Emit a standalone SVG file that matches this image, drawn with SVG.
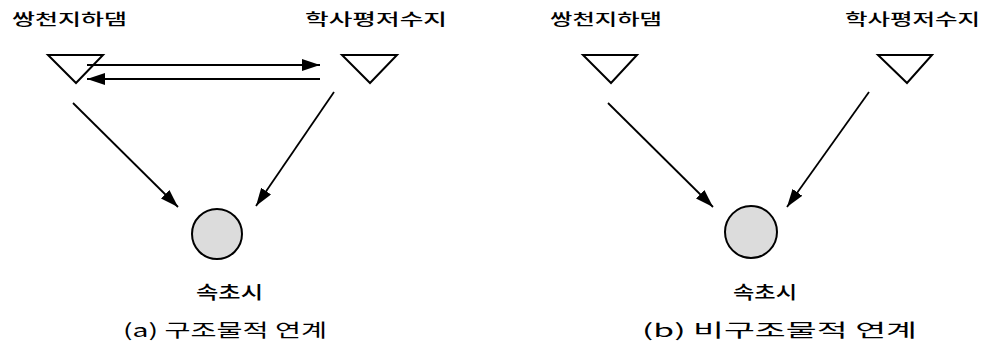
<svg xmlns="http://www.w3.org/2000/svg" width="987" height="353" viewBox="0 0 987 353">
<style>
.tri{fill:#fff;stroke:#000;stroke-width:2;stroke-linejoin:miter}
.city{fill:#dcdcdc;stroke:#000;stroke-width:2}
.lbl{font-family:"Noto Sans CJK KR","Noto Sans",sans-serif;font-size:15.5px;font-weight:500;fill:#000}
.cap{font-family:"Noto Sans CJK KR","Noto Sans",sans-serif;font-size:18px;font-weight:400;fill:#000}
.con{stroke:#000;stroke-width:1.8;fill:none}
</style>
<defs>
<marker id="ah" markerUnits="userSpaceOnUse" markerWidth="18" markerHeight="12" refX="18" refY="6" orient="auto">
<path d="M0,0 L18,6 L0,12 z" fill="#000"/>
</marker>
</defs>
<rect width="987" height="353" fill="#fff"/>
<g id="a-dam">
<polygon class="tri" points="48,55 103,55 76,83"/>
<text class="lbl" x="12" y="24.5" textLength="115" lengthAdjust="spacingAndGlyphs">쌍천지하댐</text>
</g>
<g id="a-reservoir">
<polygon class="tri" points="342,55 397,55 370,83"/>
<text class="lbl" x="305" y="24.5" textLength="142" lengthAdjust="spacingAndGlyphs">학사평저수지</text>
</g>
<g id="a-city">
<circle class="city" cx="217" cy="234" r="25"/>
<text class="lbl" x="196" y="299" textLength="67" lengthAdjust="spacingAndGlyphs" style="font-size:18px">속초시</text>
</g>
<g id="b-dam">
<polygon class="tri" points="583,55 637,55 611,83"/>
<text class="lbl" x="550" y="24.5" textLength="112" lengthAdjust="spacingAndGlyphs">쌍천지하댐</text>
</g>
<g id="b-reservoir">
<polygon class="tri" points="878,55 932,55 907,83"/>
<text class="lbl" x="845" y="24.5" textLength="135" lengthAdjust="spacingAndGlyphs">학사평저수지</text>
</g>
<g id="b-city">
<circle class="city" cx="751" cy="232" r="26"/>
<text class="lbl" x="733" y="299" textLength="64" lengthAdjust="spacingAndGlyphs" style="font-size:18px">속초시</text>
</g>
<g id="connectors">
<line class="con" x1="87" y1="65" x2="320" y2="65" marker-end="url(#ah)"/>
<line class="con" x1="320" y1="79" x2="87" y2="79" marker-end="url(#ah)"/>
<line class="con" x1="73" y1="103" x2="178" y2="207" marker-end="url(#ah)"/>
<line class="con" x1="334" y1="92" x2="256" y2="206" marker-end="url(#ah)"/>
<line class="con" x1="608" y1="103" x2="713" y2="207" marker-end="url(#ah)"/>
<line class="con" x1="869" y1="92" x2="787" y2="207" marker-end="url(#ah)"/>
</g>
<g id="captions">
<text class="cap" x="123" y="337" textLength="204" lengthAdjust="spacingAndGlyphs">(a) 구조물적 연계</text>
<text class="cap" x="642" y="337" textLength="275" lengthAdjust="spacingAndGlyphs">(b) 비구조물적 연계</text>
</g>
</svg>
